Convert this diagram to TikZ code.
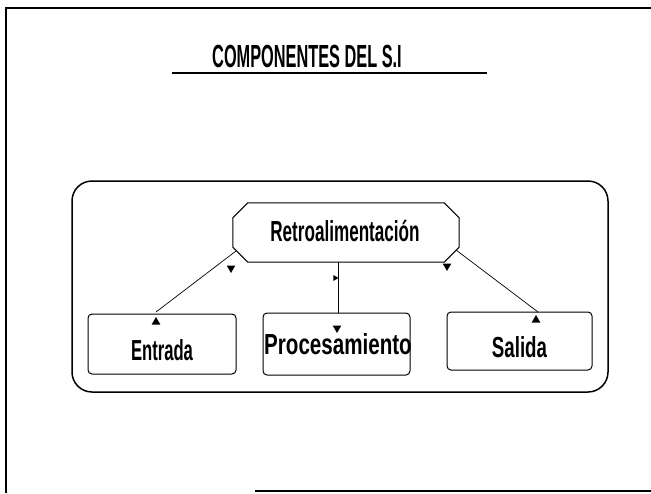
\documentclass[tikz,border=0pt]{standalone}
\usepackage{fontspec}
\usepackage{graphicx}
\setmainfont{Liberation Sans}
\usetikzlibrary{shapes.geometric}
\begin{document}
\begin{tikzpicture}[x=1pt,y=-1pt,
  txt/.style={font=\bfseries\fontsize{29}{31}\selectfont, inner sep=0pt, anchor=base},
  ttl/.style={font=\bfseries\fontsize{32}{34}\selectfont, inner sep=0pt, anchor=base},
  box/.style={draw, line width=1pt, rounded corners=4pt, inner sep=0pt},
  conn/.style={line width=0.7pt},
  tdown/.style={regular polygon, regular polygon sides=3, shape border rotate=180, fill=black, inner sep=0pt, minimum size=10pt},
  tup/.style={regular polygon, regular polygon sides=3, fill=black, inner sep=0pt, minimum size=10pt},
  tsmall/.style={regular polygon, regular polygon sides=3, shape border rotate=150, fill=black, inner sep=0pt, minimum size=7pt}]
\useasboundingbox (0,0) rectangle (651,493);
% page frame
\draw[line width=1.5pt] (651,8) -- (6,8) -- (6,493);
\draw[line width=1.5pt] (255,491) -- (651,491);
% title
\node[ttl] (title) at (307,67) {\scalebox{0.51}[1]{COMPONENTES DEL S.I}};
\draw[line width=2.5pt] (172,73) -- (487,73);
% container
\node[draw, line width=1.5pt, rounded corners=20pt, minimum width=536pt, minimum height=211pt, inner sep=0pt] (frame) at (340,286.5) {};
% feedback box (chamfered)
\node[minimum width=226pt, minimum height=59pt, inner sep=0pt] (retro) at (346,232.5) {};
\draw[line width=1pt] ([xshift=15pt]retro.north west) -- ([xshift=-15pt]retro.north east)
  -- ([yshift=-15pt]retro.north east) -- ([yshift=15pt]retro.south east)
  -- ([xshift=-15pt]retro.south east) -- ([xshift=15pt]retro.south west)
  -- ([yshift=15pt]retro.south west) -- ([yshift=-15pt]retro.north west) -- cycle;
\node[txt] (retroT) at (345,241) {\scalebox{0.59}[1]{Retroalimentación}};
% boxes
\node[box, minimum width=148pt, minimum height=60pt] (entrada) at (162,344) {};
\node[txt] (entradaT) at (162,360) {\scalebox{0.574}[1]{Entrada}};
\node[box, minimum width=147pt, minimum height=62pt] (proc) at (336.5,344) {};
\node[txt] (procT) at (338,354) {\scalebox{0.71}[1]{Procesamiento}};
\node[box, minimum width=145pt, minimum height=58pt] (salida) at (519.5,341) {};
\node[txt] (salidaT) at (519.5,357) {\scalebox{0.645}[1]{Salida}};
% connector end points
\coordinate (rl) at (236,251);
\coordinate (rm) at (338,262);
\coordinate (rr) at (456,250);
\coordinate (el) at (156,312);
\coordinate (pm) at (338,313);
\coordinate (sr) at (538,312);
\draw[conn] (rl) -- (el);
\draw[conn] (rm) -- (pm);
\draw[conn] (rr) -- (sr);
% arrow marks
\node[tdown] (a1) at (231,268) {};
\node[tdown] (a2) at (447,266) {};
\node[tup] (a3) at (156,322) {};
\node[tup] (a4) at (536,320) {};
\node[tdown] (a5) at (337,328) {};
\node[tsmall] (a6) at (335,278) {};
\end{tikzpicture}
\end{document}
